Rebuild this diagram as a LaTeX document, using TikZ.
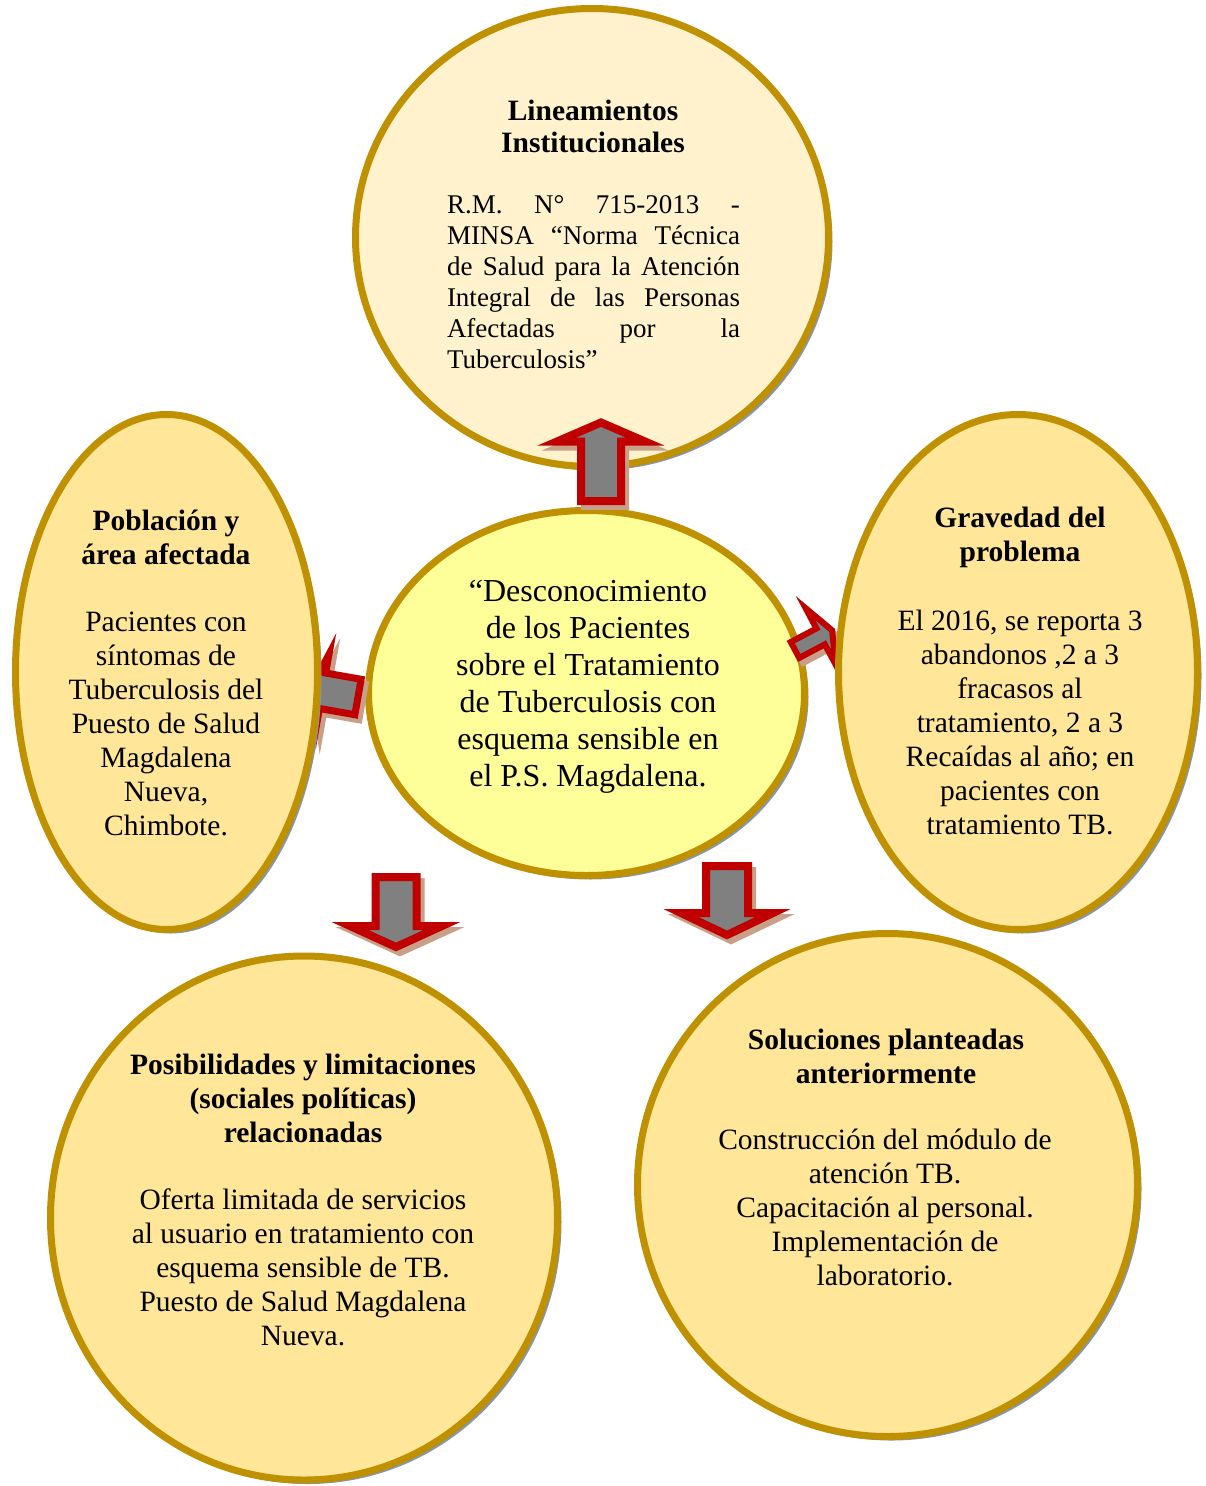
\documentclass[tikz,border=0pt]{standalone}
\usepackage{fontspec}
\setmainfont{Liberation Serif}
\usetikzlibrary{shapes.geometric,shadows}
\definecolor{gold}{RGB}{191,144,0}
\definecolor{topfill}{RGB}{255,242,204}
\definecolor{cenfill}{RGB}{255,255,153}
\definecolor{sidefill}{RGB}{255,230,153}
\definecolor{shblue}{RGB}{132,151,176}
\definecolor{arred}{RGB}{192,0,0}
\definecolor{argray}{RGB}{128,128,128}
\definecolor{arshadow}{RGB}{200,160,135}
% x y angle L s h hl lw
\newcommand\blockarrow[8]{%
 \begin{scope}[shift={(#1+4,#2+5)},rotate=#3]
  \filldraw[arshadow, line width=#8, line join=miter]
   (0,-#5) -- ({#4-#7},-#5) -- ({#4-#7},-#6) -- (#4,0) -- ({#4-#7},#6) -- ({#4-#7},#5) -- (0,#5) -- cycle;
 \end{scope}
 \begin{scope}[shift={(#1,#2)},rotate=#3]
  \filldraw[draw=arred, fill=argray, line width=#8, line join=miter]
   (0,-#5) -- ({#4-#7},-#5) -- ({#4-#7},-#6) -- (#4,0) -- ({#4-#7},#6) -- ({#4-#7},#5) -- (0,#5) -- cycle;
 \end{scope}}
\begin{document}
\begin{tikzpicture}[x=1pt,y=-1pt,
  ell/.style={ellipse, draw=gold, line width=7pt, inner sep=0pt,
    drop shadow={shadow xshift=4pt, shadow yshift=-4pt, fill=shblue, opacity=1}},
  hd/.style={font=\fontsize{29.5}{34}\selectfont\bfseries, align=center, inner sep=0pt},
  bd/.style={font=\fontsize{29.5}{34}\selectfont, align=center, inner sep=0pt}]
\useasboundingbox[fill=white] (0,0) rectangle (1205,1486);
% ellipses
\node[ell, fill=topfill, minimum width=473pt, minimum height=458pt] (top) at (592,237.5) {};
\node[ell, fill=cenfill, minimum width=436pt, minimum height=365pt] (cen) at (586.5,693) {};
\node[ell, fill=sidefill, minimum width=507pt, minimum height=524pt] (bl) at (304,1218) {};
\node[ell, fill=sidefill, minimum width=500pt, minimum height=503pt] (br) at (887.5,1185) {};
% small side arrows (under side ellipses)
\blockarrow{358}{697}{170}{48}{18}{37}{12}{7}
\blockarrow{795}{650}{28}{42}{9}{32}{13}{6}
\node[ell, fill=sidefill, minimum width=302pt, minimum height=515pt] (left) at (166.5,672) {};
\node[ell, fill=sidefill, minimum width=359pt, minimum height=515pt] (right) at (1018,672) {};
% big arrows
\blockarrow{601}{501}{90}{78.5}{20}{44}{19}{8}
\blockarrow{396}{877}{-90}{70}{20.5}{46}{21}{8}
\blockarrow{727}{866}{-90}{69}{21}{46}{22}{8}
% texts
\node[hd, font=\fontsize{29.5}{32}\selectfont\bfseries] (toph) at (593,126) {Lineamientos\\Institucionales};
\node[align=left, inner sep=0pt, font=\fontsize{27}{31}\selectfont] (topb) at (593.5,282)
 {\makebox[293pt][s]{R.M. N° 715-2013 -}\\
  \makebox[293pt][s]{MINSA “Norma Técnica}\\
  \makebox[293pt][s]{de Salud para la Atención}\\
  \makebox[293pt][s]{Integral de las Personas}\\
  \makebox[293pt][s]{Afectadas por la}\\
  \makebox[293pt][l]{Tuberculosis”}};
\node[bd, font=\fontsize{32}{37}\selectfont] (cent) at (588,687)
 {“Desconocimiento\\de los Pacientes\\sobre el Tratamiento\\de Tuberculosis con\\esquema sensible en\\el P.S. Magdalena.};
\node[hd] (lefth) at (166,537) {Población y\\área afectada};
\node[bd] (leftb) at (166,724) {Pacientes con\\síntomas de\\Tuberculosis del\\Puesto de Salud\\Magdalena\\Nueva,\\Chimbote.};
\node[hd] (righth) at (1020,537) {Gravedad del\\problema};
\node[bd] (rightb) at (1020,722.5) {El 2016, se reporta 3\\abandonos ,2 a 3\\fracasos al\\tratamiento, 2 a 3\\Recaídas al año; en\\pacientes con\\tratamiento TB.};
\node[hd] (blh) at (303,1098) {Posibilidades y limitaciones\\(sociales políticas)\\relacionadas};
\node[bd] (blb) at (303,1267) {Oferta limitada de servicios\\al usuario en tratamiento con\\esquema sensible de TB.\\Puesto de Salud Magdalena\\Nueva.};
\node[hd] (brh) at (886,1056.5) {Soluciones planteadas\\anteriormente};
\node[bd] (brb) at (885,1207) {Construcción del módulo de\\atención TB.\\Capacitación al personal.\\Implementación de\\laboratorio.};
\end{tikzpicture}
\end{document}
